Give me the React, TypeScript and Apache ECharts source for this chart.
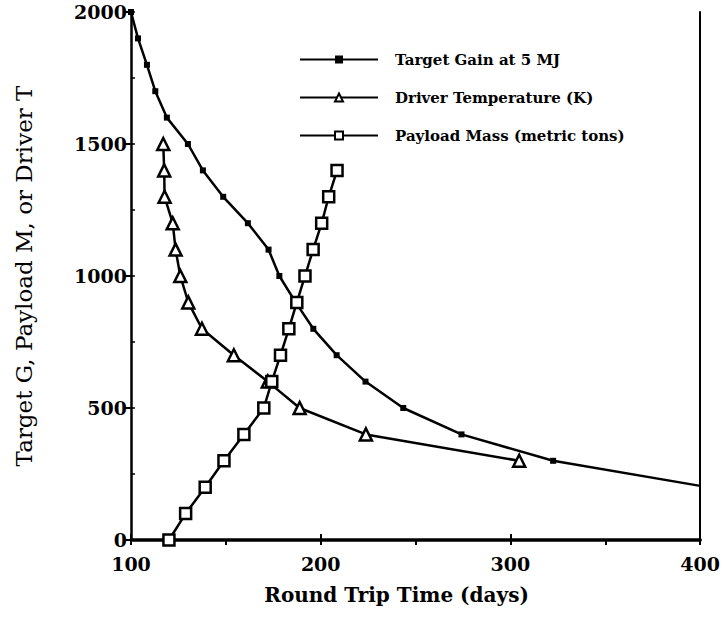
import React, { useEffect, useRef } from "react";
import * as echarts from "echarts";

const gainX = [100, 103.7, 108.4, 112.8, 118.9, 130, 137.9, 148.6, 161.6, 172.5, 178.2, 186.8, 196.1, 208.4, 223.6, 243.5, 274.2, 322.5, 400];
const gainY = [2000, 1900, 1800, 1700, 1600, 1500, 1400, 1300, 1200, 1100, 1000, 900, 800, 700, 600, 500, 400, 300, 205];

const tempX = [117, 117.5, 117.7, 122, 123.5, 126, 130.2, 137.4, 154.2, 172.1, 188.9, 223.8, 304.6];
const tempY = [1500, 1400, 1300, 1200, 1100, 1000, 900, 800, 700, 600, 500, 400, 300];

const massX = [120, 128.8, 139.1, 149, 159.5, 170, 174.2, 178.8, 183.2, 187.4, 191.7, 196, 200.5, 204.2, 208.6];
const massY = [0, 100, 200, 300, 400, 500, 600, 700, 800, 900, 1000, 1100, 1200, 1300, 1400];

const seriesNames = ["Target Gain at 5 MJ", "Driver Temperature (K)", "Payload Mass (metric tons)"];
const xTitle = "Round Trip Time (days)";
const yTitle = "Target G, Payload M, or Driver T";

const SERIF = "DejaVu Serif";

export default function App() {
  const ref = useRef<HTMLDivElement>(null);
  useEffect(() => {
    if (!ref.current) return;
    const chart = echarts.init(ref.current, null, { renderer: "svg" });
    const pairs = (xs: number[], ys: number[]) => xs.map((x, i) => [x, ys[i]]);
    const gainData: any[] = pairs(gainX, gainY);
    gainData[gainData.length - 1] = { value: gainData[gainData.length - 1], symbol: "none" };
    const lineStyle = { color: "#000", width: 2.5 };
    chart.setOption({
      animation: false,
      backgroundColor: "#fff",
      grid: { left: 131, right: 20, top: 12, bottom: 80 },
      legend: {
        orient: "vertical",
        left: 294,
        top: 47,
        itemWidth: 78,
        itemHeight: 10,
        itemGap: 23,
        textStyle: { fontFamily: SERIF, fontWeight: "bold", fontSize: 15, color: "#000", padding: [0, 0, 0, 12] },
        data: seriesNames,
      },
      xAxis: [
        {
          type: "value",
          min: 100,
          max: 400,
          interval: 100,
          position: "bottom",
          name: xTitle,
          nameLocation: "middle",
          nameGap: 45,
          nameTextStyle: { fontFamily: SERIF, fontWeight: "bold", fontSize: 20, color: "#000", padding: [0, 38, 0, 0] },
          axisLine: { lineStyle: { color: "#000", width: 3.5 } },
          axisTick: { inside: true, length: 6, lineStyle: { color: "#000", width: 2 } },
          axisLabel: { fontFamily: SERIF, fontWeight: "bold", fontSize: 19, color: "#000", margin: 14 },
          splitLine: { show: false },
        },
        {
          type: "value",
          min: 100,
          max: 400,
          interval: 50,
          position: "top",
          axisLine: { lineStyle: { color: "#000", width: 2 } },
          axisTick: { inside: true, length: 5, lineStyle: { color: "#000", width: 2 } },
          axisLabel: { show: false },
          splitLine: { show: false },
        },
      ],
      yAxis: [
        {
          type: "value",
          min: 0,
          max: 2000,
          interval: 500,
          position: "left",
          name: yTitle,
          nameLocation: "middle",
          nameGap: 96,
          nameTextStyle: { fontFamily: SERIF, fontSize: 23, color: "#000" },
          axisLine: { lineStyle: { color: "#000", width: 2.5 } },
          axisTick: { inside: false, length: 6, lineStyle: { color: "#000", width: 2 } },
          axisLabel: {
            fontFamily: SERIF,
            fontWeight: "bold",
            fontSize: 19,
            color: "#000",
            margin: 4,
            formatter: (v: number) => String(v),
          },
          splitLine: { show: false },
        },
        {
          type: "value",
          min: 0,
          max: 2000,
          interval: 500,
          position: "right",
          axisLine: { lineStyle: { color: "#000", width: 2 } },
          axisTick: { show: false },
          axisLabel: { show: false },
          splitLine: { show: false },
        },
        {
          type: "value",
          min: 0,
          max: 2000,
          interval: 250,
          position: "left",
          axisLine: { show: false },
          axisTick: { inside: true, length: 4, lineStyle: { color: "#000", width: 1.5 } },
          axisLabel: { show: false },
          splitLine: { show: false },
        },
      ],
      series: [
        {
          name: seriesNames[0],
          type: "line",
          data: gainData,
          symbol: "rect",
          symbolSize: 6,
          itemStyle: { color: "#000", borderColor: "#000", borderWidth: 0 },
          lineStyle,
        },
        {
          name: seriesNames[1],
          type: "line",
          data: pairs(tempX, tempY),
          symbol: "triangle",
          symbolSize: 12,
          itemStyle: { color: "#fff", borderColor: "#000", borderWidth: 2.5 },
          lineStyle,
        },
        {
          name: seriesNames[2],
          type: "line",
          data: pairs(massX, massY),
          symbol: "rect",
          symbolSize: 11,
          itemStyle: { color: "#fff", borderColor: "#000", borderWidth: 2.5 },
          lineStyle,
        },
      ],
    });
    return () => chart.dispose();
  }, []);
  return <div ref={ref} style={{ width: 723, height: 620, position: "absolute", left: 0, top: 0 }} />;
}
